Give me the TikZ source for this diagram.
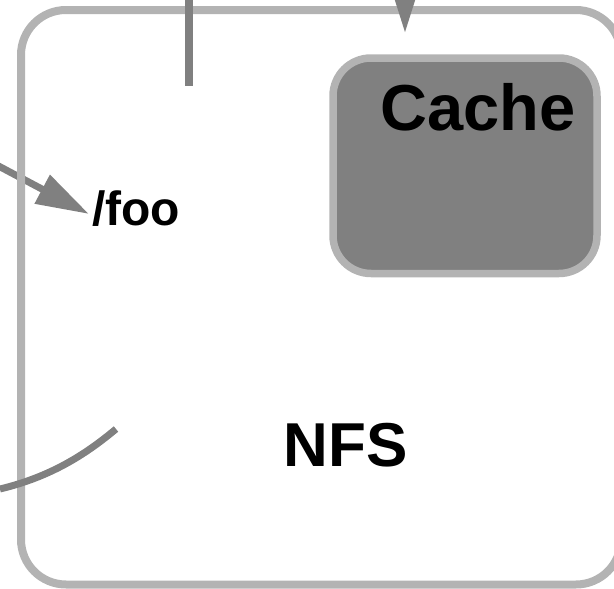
\documentclass[tikz,border=0pt]{standalone}
\usepackage{fontspec}
\setmainfont{Liberation Sans}
\usetikzlibrary{arrows.meta}
\definecolor{darkg}{HTML}{808080}
\definecolor{lightg}{HTML}{B3B3B3}
\begin{document}
\begin{tikzpicture}[x=1pt,y=-1pt,
  conn/.style={draw=darkg,line width=7pt},
  head/.style={-{Triangle[length=53pt,width=31pt]}},
  lbl/.style={anchor=base west,inner sep=0pt,font=\bfseries}]
\useasboundingbox (0,0) rectangle (614,589);
% arrow into /foo (below the border)
\coordinate (fooin) at (-26,153);
\coordinate (footip) at (89,214);
\draw[conn,head,darkg] (fooin) -- (footip);
% outer NFS box
\draw[lightg,line width=8pt,rounded corners=45pt] (21,10) rectangle (621,584.5);
% vertical line from top
\coordinate (vtop) at (189,-10);
\coordinate (vbot) at (189,86);
\draw[conn,line width=8pt] (vtop) -- (vbot);
% arrow into the box from above
\coordinate (atop) at (405,-60);
\coordinate (atip) at (405,33);
\draw[conn,head,darkg] (atop) -- (atip);
% curve at lower left
\coordinate (cstart) at (0,489);
\coordinate (cend) at (116,429);
\draw[conn] (cstart) .. controls (50,477) and (85,455) .. (cend);
% cache box
\node[draw=lightg,fill=darkg,line width=7.5pt,rounded corners=38pt,
      minimum width=264pt,minimum height=215.5pt,inner sep=0pt] (cache) at (465,165.75) {};
% labels
\node[lbl,font=\bfseries\fontsize{65}{70}\selectfont] (cachelbl) at (380,130) {Cache};
\node[lbl,font=\bfseries\fontsize{48}{54}\selectfont] (foo) at (92,225) {/foo};
\node[lbl,font=\bfseries\fontsize{62}{68}\selectfont] (nfs) at (283.5,466) {NFS};
\end{tikzpicture}
\end{document}
